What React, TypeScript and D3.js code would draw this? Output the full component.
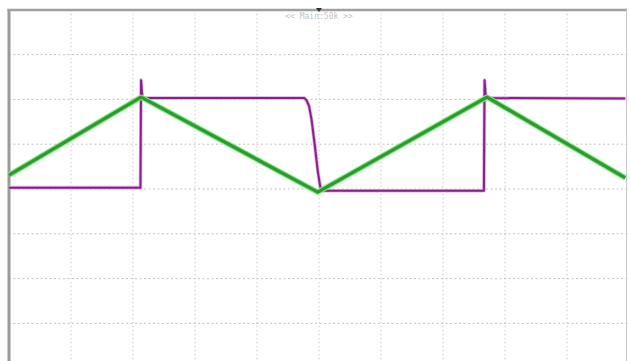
import React, { useEffect, useRef } from "react";
import * as d3 from "d3";

// Screen geometry of the scope capture
const WIDTH = 630;
const HEIGHT = 361;

// Graticule: 10 horizontal divisions, 8 vertical divisions (level 0 at centre)
const timeDivisions = d3.range(0, 11);
const levelDivisions = d3.range(-4, 5);

// Channel 1 (green): triangle ramp, [time div, level div]
const rampTime = [0, 2.13, 4.98, 7.71, 9.94];
const rampLevel = [0.31, 2.05, -0.07, 2.05, 0.25];

// Channel 2 (purple): square wave with an overshoot on each rising edge and a slow falling edge
const pulseTime = [
  0, 2.12, 2.13, 2.15, 2.2, 4.76, 4.8, 4.84, 4.88, 4.93, 4.98, 5.02, 5.06, 7.66, 7.67, 7.69, 7.74, 9.94,
];
const pulseLevel = [
  0.03, 0.03, 2.43, 2.05, 2.03, 2.03, 1.98, 1.85, 1.55, 1.0, 0.4, 0.05, -0.04, -0.04, 2.43, 2.05, 2.03, 2.02,
];

const headerText = "<< Main:50k >>";

export default function App() {
  const ref = useRef<SVGSVGElement | null>(null);

  useEffect(() => {
    const svg = d3.select(ref.current);
    svg.selectAll("*").remove();

    const x = d3.scaleLinear().domain([0, 10]).range([9, 629]);
    const y = d3.scaleLinear().domain([-4, 4]).range([368.2, 9.8]);

    svg.append("rect").attr("width", WIDTH).attr("height", HEIGHT).attr("fill", "#ffffff");

    const grid = svg.append("g");
    grid
      .selectAll("line.v")
      .data(timeDivisions.slice(1, 10))
      .join("line")
      .attr("x1", (d) => x(d))
      .attr("x2", (d) => x(d))
      .attr("y1", y(4))
      .attr("y2", HEIGHT)
      .attr("stroke", "#c6c6c6")
      .attr("stroke-width", 1)
      .attr("stroke-dasharray", "1.5,2.5");
    grid
      .selectAll("line.h")
      .data(levelDivisions.slice(1, 8))
      .join("line")
      .attr("x1", x(0))
      .attr("x2", x(10))
      .attr("y1", (d) => y(d))
      .attr("y2", (d) => y(d))
      .attr("stroke", "#c2c2c2")
      .attr("stroke-width", 1)
      .attr("stroke-dasharray", "2,2.5");

    // Frame
    svg
      .append("line")
      .attr("x1", 9)
      .attr("x2", 9)
      .attr("y1", 9)
      .attr("y2", HEIGHT)
      .attr("stroke", "#9a9a9a")
      .attr("stroke-width", 3);
    svg
      .append("line")
      .attr("x1", 7.5)
      .attr("x2", 627)
      .attr("y1", 10)
      .attr("y2", 10)
      .attr("stroke", "#a0a0a0")
      .attr("stroke-width", 2.5);
    svg
      .append("line")
      .attr("x1", 626.5)
      .attr("x2", 626.5)
      .attr("y1", 10)
      .attr("y2", HEIGHT)
      .attr("stroke", "#c8c8c8")
      .attr("stroke-width", 1);

    // Trigger position marker
    svg
      .append("path")
      .attr("d", `M${x(5) - 3},8 L${x(5) + 3},8 L${x(5)},12 Z`)
      .attr("fill", "#333");

    svg
      .append("text")
      .attr("x", x(5))
      .attr("y", 19)
      .attr("text-anchor", "middle")
      .attr("font-family", "DejaVu Sans Mono, monospace")
      .attr("font-size", 8)
      .attr("fill", "#c4c4c4")
      .text(headerText);

    const line = d3
      .line<[number, number]>()
      .x((d) => x(d[0]))
      .y((d) => y(d[1]));

    const pulse = pulseTime.map((t, i) => [t, pulseLevel[i]] as [number, number]);
    svg
      .append("path")
      .attr("d", line(pulse))
      .attr("fill", "none")
      .attr("stroke", "#dcb0df")
      .attr("stroke-width", 3.6)
      .attr("stroke-linejoin", "round");
    svg
      .append("path")
      .attr("d", line(pulse))
      .attr("fill", "none")
      .attr("stroke", "#8a1e8c")
      .attr("stroke-width", 2)
      .attr("stroke-linejoin", "round");

    const ramp = rampTime.map((t, i) => [t, rampLevel[i]] as [number, number]);
    svg
      .append("path")
      .attr("d", line(ramp))
      .attr("fill", "none")
      .attr("stroke", "#7fe87a")
      .attr("stroke-width", 5.5)
      .attr("stroke-linejoin", "round");
    svg
      .append("path")
      .attr("d", line(ramp))
      .attr("fill", "none")
      .attr("stroke", "#2c9a30")
      .attr("stroke-width", 3.2)
      .attr("stroke-linejoin", "round");
  }, []);

  return (
    <svg
      ref={ref}
      width={WIDTH}
      height={HEIGHT}
      style={{ position: "absolute", left: 0, top: 0, display: "block" }}
    />
  );
}
